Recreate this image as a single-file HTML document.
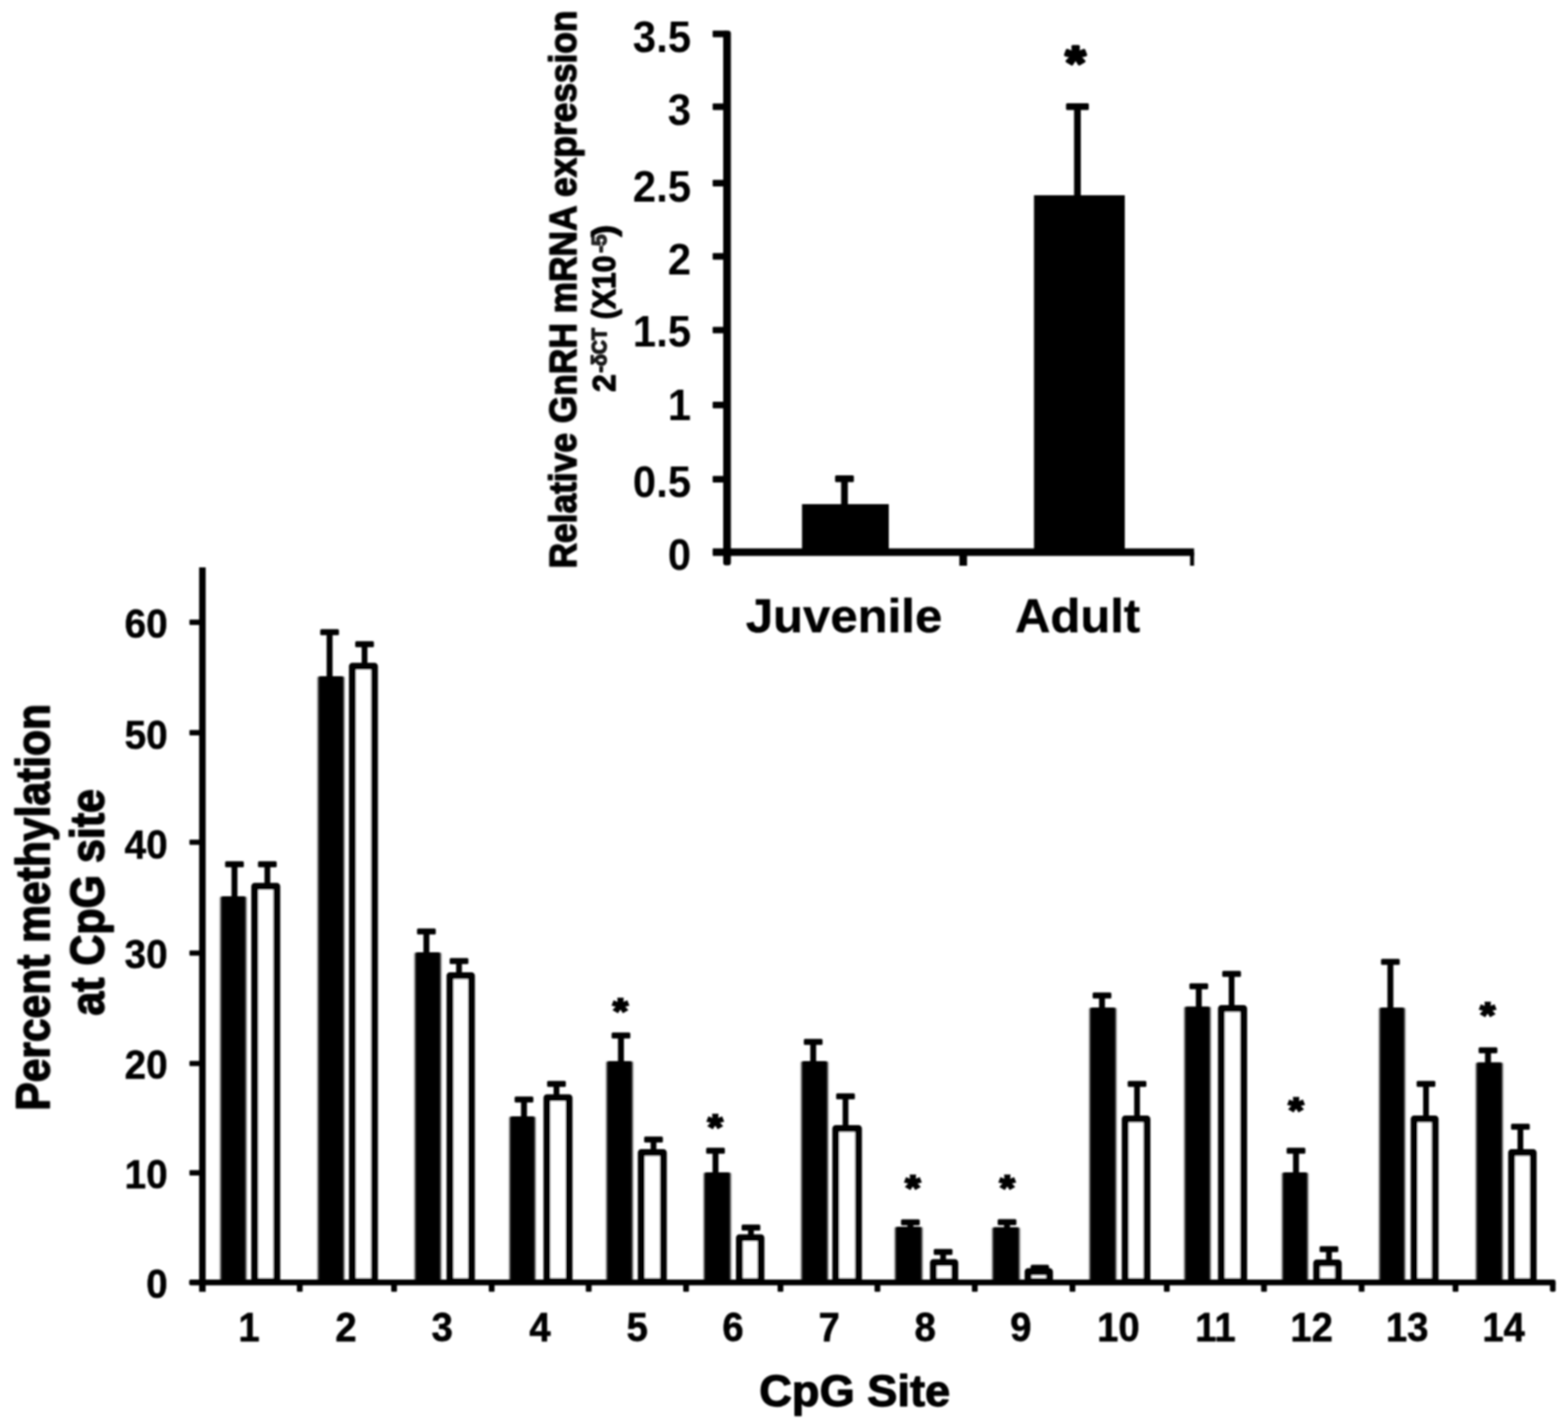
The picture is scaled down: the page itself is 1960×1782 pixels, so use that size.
<!DOCTYPE html>
<html lang="en">
<head>
<meta charset="utf-8">
<title>Percent methylation at CpG site</title>
<style>
html,body{margin:0;padding:0;background:#fff;}
body{width:1960px;height:1782px;overflow:hidden;}
svg{display:block;}
svg text{font-family:"Liberation Sans", sans-serif;font-weight:bold;fill:#000;white-space:pre;}
</style>
</head>
<body>
<svg width="1960" height="1782" viewBox="0 0 1960 1782">
<defs><filter id="soft" x="0" y="0" width="1960" height="1782" filterUnits="userSpaceOnUse"><feGaussianBlur stdDeviation="1.25"/></filter><filter id="softx" x="0" y="0" width="1960" height="1782" filterUnits="userSpaceOnUse"><feGaussianBlur stdDeviation="1.2 0.3"/></filter></defs>
<rect x="0" y="0" width="1960" height="1782" fill="#fff"/>
<g fill="#000" filter="url(#soft)">
<g id="inset">
<rect x="904" y="38.2" width="9.6" height="668.3" rx="3.5"/>
<rect x="904" y="44" width="5" height="656"/>
<rect x="891" y="685.3" width="601.6" height="9.4"/>
<rect x="890.8" y="685.9" width="17.2" height="8.2" rx="1"/>
<text transform="translate(863.8,711.9) scale(0.9550,1)" x="0" y="0" text-anchor="end" font-size="54.8">0</text>
<rect x="890.8" y="594.7" width="17.2" height="8.2" rx="1"/>
<text transform="translate(863.8,621) scale(0.9550,1)" x="0" y="0" text-anchor="end" font-size="54.8">0.5</text>
<rect x="890.8" y="502.1" width="17.2" height="8.2" rx="1"/>
<text transform="translate(863.8,525.4) scale(0.9550,1)" x="0" y="0" text-anchor="end" font-size="54.8">1</text>
<rect x="890.8" y="408.4" width="17.2" height="8.2" rx="1"/>
<text transform="translate(863.8,433.3) scale(0.9550,1)" x="0" y="0" text-anchor="end" font-size="54.8">1.5</text>
<rect x="890.8" y="316.2" width="17.2" height="8.2" rx="1"/>
<text transform="translate(863.8,343) scale(0.9550,1)" x="0" y="0" text-anchor="end" font-size="54.8">2</text>
<rect x="890.8" y="224.7" width="17.2" height="8.2" rx="1"/>
<text transform="translate(863.8,251.5) scale(0.9550,1)" x="0" y="0" text-anchor="end" font-size="54.8">2.5</text>
<rect x="890.8" y="129.2" width="17.2" height="8.2" rx="1"/>
<text transform="translate(863.8,155.6) scale(0.9550,1)" x="0" y="0" text-anchor="end" font-size="54.8">3</text>
<rect x="890.8" y="38.3" width="17.2" height="8.2" rx="1"/>
<text transform="translate(863.8,64.7) scale(0.9550,1)" x="0" y="0" text-anchor="end" font-size="54.8">3.5</text>
<rect x="1199.2" y="690" width="9.6" height="17"/>
<rect x="1487.6" y="690" width="5" height="17"/>
<rect x="1002.5" y="630" width="108.5" height="60"/>
<rect x="1292.5" y="244" width="113.5" height="446"/>
<rect x="1051.4" y="598.2" width="8.4" height="33.8"/>
<rect x="1043.85" y="594" width="23.5" height="8.4" rx="1.5"/>
<rect x="1342.6" y="133.2" width="8.4" height="112.8"/>
<rect x="1332.55" y="129" width="28.5" height="8.4" rx="1.5"/>
<text transform="translate(1329.9,82.3) scale(0.6517,0.5965)" x="2.75" y="28.5" font-size="100" stroke="#000" stroke-width="6" stroke-linejoin="round">*</text>
<text transform="translate(932.8,790) scale(1.0234,1)" x="-0.65" y="0" font-size="60" stroke="#000" stroke-width="0.5" stroke-linejoin="round">Juvenile</text>
<text transform="translate(1270,790) scale(1.0214,1)" x="-1.25" y="0" font-size="60" stroke="#000" stroke-width="0.5" stroke-linejoin="round">Adult</text>
<text transform="translate(720.3,708.2) rotate(-90) scale(0.9274,1)" x="-2.36" y="0" font-size="47.6" stroke="#000" stroke-width="1.7" stroke-linejoin="round">Relative GnRH mRNA expression</text>
<text transform="translate(768.6,489.2) rotate(-90) scale(0.9906,1)" x="-0.66" y="0" font-size="40.2" stroke="#000" stroke-width="1.5" stroke-linejoin="round">2</text>
<text transform="translate(757.6,465.5) rotate(-90) scale(0.9577,1)" x="-0.12" y="0" font-size="25.5" stroke="#000" stroke-width="1.8" stroke-linejoin="round" opacity="0.9">-δCT</text>
<text transform="translate(768.6,397.7) rotate(-90) scale(0.9371,1)" x="-1.26" y="0" font-size="40.2" stroke="#000" stroke-width="1.5" stroke-linejoin="round">(X10</text>
<text transform="translate(757.6,315.6) rotate(-90) scale(1.0224,1)" x="-0.1" y="0" font-size="25" stroke="#000" stroke-width="1.8" stroke-linejoin="round" opacity="0.85">-5</text>
<text transform="translate(768.6,296.4) rotate(-90) scale(1.0975,1)" x="0.65" y="0" font-size="40.2" stroke="#000" stroke-width="1.5" stroke-linejoin="round">)</text>
</g>
<g id="main">
<rect x="248.9" y="709" width="8.2" height="905.3"/>
<rect x="236.6" y="1598.9" width="1707.9" height="7.4" rx="2.5"/>
<rect x="236.8" y="1599.3" width="13.1" height="6.6" rx="1"/>
<text transform="translate(209.6,1622) scale(0.9550,1)" x="0" y="0" text-anchor="end" font-size="50.6" stroke="#000" stroke-width="0.6" stroke-linejoin="round">0</text>
<rect x="236.8" y="1462.3" width="13.1" height="6.6" rx="1"/>
<text transform="translate(209.6,1485.1) scale(0.9550,1)" x="0" y="0" text-anchor="end" font-size="50.6" stroke="#000" stroke-width="0.6" stroke-linejoin="round">10</text>
<rect x="236.8" y="1325.7" width="13.1" height="6.6" rx="1"/>
<text transform="translate(209.6,1347.7) scale(0.9550,1)" x="0" y="0" text-anchor="end" font-size="50.6" stroke="#000" stroke-width="0.6" stroke-linejoin="round">20</text>
<rect x="236.8" y="1187.7" width="13.1" height="6.6" rx="1"/>
<text transform="translate(209.6,1210.3) scale(0.9550,1)" x="0" y="0" text-anchor="end" font-size="50.6" stroke="#000" stroke-width="0.6" stroke-linejoin="round">30</text>
<rect x="236.8" y="1049.2" width="13.1" height="6.6" rx="1"/>
<text transform="translate(209.6,1073.4) scale(0.9550,1)" x="0" y="0" text-anchor="end" font-size="50.6" stroke="#000" stroke-width="0.6" stroke-linejoin="round">40</text>
<rect x="236.8" y="912.3" width="13.1" height="6.6" rx="1"/>
<text transform="translate(209.6,935.5) scale(0.9550,1)" x="0" y="0" text-anchor="end" font-size="50.6" stroke="#000" stroke-width="0.6" stroke-linejoin="round">50</text>
<rect x="236.8" y="774.3" width="13.1" height="6.6" rx="1"/>
<text transform="translate(209.6,797.3) scale(0.9550,1)" x="0" y="0" text-anchor="end" font-size="50.6" stroke="#000" stroke-width="0.6" stroke-linejoin="round">60</text>
<rect x="371.1" y="1602.6" width="7.2" height="11.6" rx="1"/>
<rect x="489" y="1602.6" width="7.2" height="11.6" rx="1"/>
<rect x="611" y="1602.6" width="7.2" height="11.6" rx="1"/>
<rect x="732.3" y="1602.6" width="7.2" height="11.6" rx="1"/>
<rect x="854" y="1602.6" width="7.2" height="11.6" rx="1"/>
<rect x="972" y="1602.6" width="7.2" height="11.6" rx="1"/>
<rect x="1093.2" y="1602.6" width="7.2" height="11.6" rx="1"/>
<rect x="1214.9" y="1602.6" width="7.2" height="11.6" rx="1"/>
<rect x="1337" y="1602.6" width="7.2" height="11.6" rx="1"/>
<rect x="1454.9" y="1602.6" width="7.2" height="11.6" rx="1"/>
<rect x="1576.4" y="1602.6" width="7.2" height="11.6" rx="1"/>
<rect x="1698.4" y="1602.6" width="7.2" height="11.6" rx="1"/>
<rect x="1815.8" y="1602.6" width="7.2" height="11.6" rx="1"/>
<rect x="1937.5" y="1602.6" width="7" height="11.6" rx="2"/>
<rect x="318.4" y="1107.5" width="27.6" height="493.9" fill="#fff" stroke="#000" stroke-width="8.6" stroke-linejoin="round"/>
<rect x="330.6" y="1080" width="7.2" height="25.2"/>
<rect x="322.5" y="1076.3" width="23.4" height="7.4" rx="1.5"/>
<rect x="275.6" y="1120" width="32.1" height="482.6" rx="2.5" filter="url(#softx)"/>
<rect x="289.4" y="1080" width="7.4" height="43"/>
<rect x="281.4" y="1076.3" width="23.4" height="7.4" rx="1.5"/>
<text transform="translate(311.2,1676.1) scale(0.9500,1)" x="0" y="0" text-anchor="middle" font-size="50.2" stroke="#000" stroke-width="0.8" stroke-linejoin="round">1</text>
<rect x="440.5" y="832.5" width="27.6" height="768.9" fill="#fff" stroke="#000" stroke-width="8.6" stroke-linejoin="round"/>
<rect x="452.1" y="805" width="7.2" height="25.2"/>
<rect x="444" y="801.3" width="23.4" height="7.4" rx="1.5"/>
<rect x="397.4" y="845" width="32.7" height="757.6" rx="2.5" filter="url(#softx)"/>
<rect x="408.3" y="790" width="7.4" height="58"/>
<rect x="400.3" y="786.3" width="23.4" height="7.4" rx="1.5"/>
<text transform="translate(432.6,1676.1) scale(0.9500,1)" x="0" y="0" text-anchor="middle" font-size="50.2" stroke="#000" stroke-width="0.8" stroke-linejoin="round">2</text>
<rect x="562.5" y="1219.3" width="26.8" height="382.1" fill="#fff" stroke="#000" stroke-width="8.6" stroke-linejoin="round"/>
<rect x="570.2" y="1201" width="7.2" height="16"/>
<rect x="562.1" y="1197.3" width="23.4" height="7.4" rx="1.5"/>
<rect x="518.6" y="1190" width="32.5" height="412.6" rx="2.5" filter="url(#softx)"/>
<rect x="529.3" y="1164" width="7.4" height="29"/>
<rect x="521.3" y="1160.3" width="23.4" height="7.4" rx="1.5"/>
<text transform="translate(552.7,1676.1) scale(0.9500,1)" x="0" y="0" text-anchor="middle" font-size="50.2" stroke="#000" stroke-width="0.8" stroke-linejoin="round">3</text>
<rect x="683.7" y="1371.8" width="27.6" height="229.6" fill="#fff" stroke="#000" stroke-width="8.6" stroke-linejoin="round"/>
<rect x="692" y="1354.5" width="7.2" height="15"/>
<rect x="683.9" y="1350.8" width="23.4" height="7.4" rx="1.5"/>
<rect x="637" y="1395" width="32" height="207.6" rx="2.5" filter="url(#softx)"/>
<rect x="651.3" y="1374" width="7.4" height="24"/>
<rect x="643.3" y="1370.3" width="23.4" height="7.4" rx="1.5"/>
<text transform="translate(675,1676.1) scale(0.9500,1)" x="0" y="0" text-anchor="middle" font-size="50.2" stroke="#000" stroke-width="0.8" stroke-linejoin="round">4</text>
<rect x="801.6" y="1440.3" width="27.6" height="161.1" fill="#fff" stroke="#000" stroke-width="8.6" stroke-linejoin="round"/>
<rect x="813.3" y="1424" width="7.2" height="14"/>
<rect x="805.2" y="1420.3" width="23.4" height="7.4" rx="1.5"/>
<rect x="758.2" y="1326" width="32.6" height="276.6" rx="2.5" filter="url(#softx)"/>
<rect x="772.5" y="1294" width="7.4" height="35"/>
<rect x="764.5" y="1290.3" width="23.4" height="7.4" rx="1.5"/>
<text transform="translate(764.9,1266.1) scale(0.4909,0.4491)" x="2.5" y="28.75" font-size="100" stroke="#000" stroke-width="5.5" stroke-linejoin="miter">*</text>
<text transform="translate(796.4,1676.1) scale(0.9500,1)" x="0" y="0" text-anchor="middle" font-size="50.2" stroke="#000" stroke-width="0.8" stroke-linejoin="round">5</text>
<rect x="924.3" y="1546.8" width="26.9" height="54.6" fill="#fff" stroke="#000" stroke-width="8.6" stroke-linejoin="round"/>
<rect x="935.1" y="1534" width="7.2" height="10.5"/>
<rect x="927" y="1530.3" width="23.4" height="7.4" rx="1.5"/>
<rect x="880" y="1465" width="33.3" height="137.6" rx="2.5" filter="url(#softx)"/>
<rect x="890.7" y="1438" width="7.4" height="30"/>
<rect x="882.7" y="1434.3" width="23.4" height="7.4" rx="1.5"/>
<text transform="translate(883.2,1410.6) scale(0.4909,0.4491)" x="2.5" y="28.75" font-size="100" stroke="#000" stroke-width="5.5" stroke-linejoin="miter">*</text>
<text transform="translate(916.2,1676.1) scale(0.9500,1)" x="0" y="0" text-anchor="middle" font-size="50.2" stroke="#000" stroke-width="0.8" stroke-linejoin="round">6</text>
<rect x="1044.7" y="1410.3" width="28.4" height="191.1" fill="#fff" stroke="#000" stroke-width="8.6" stroke-linejoin="round"/>
<rect x="1053.3" y="1370" width="7.2" height="38"/>
<rect x="1045.2" y="1366.3" width="23.4" height="7.4" rx="1.5"/>
<rect x="1001.7" y="1326" width="33.1" height="276.6" rx="2.5" filter="url(#softx)"/>
<rect x="1012.8" y="1302" width="7.4" height="27"/>
<rect x="1004.8" y="1298.3" width="23.4" height="7.4" rx="1.5"/>
<text transform="translate(1036.6,1676.1) scale(0.9500,1)" x="0" y="0" text-anchor="middle" font-size="50.2" stroke="#000" stroke-width="0.8" stroke-linejoin="round">7</text>
<rect x="1166.8" y="1577.8" width="26.7" height="23.6" fill="#fff" stroke="#000" stroke-width="8.6" stroke-linejoin="round"/>
<rect x="1175.3" y="1564.5" width="7.2" height="11"/>
<rect x="1167.2" y="1560.8" width="23.4" height="7.4" rx="1.5"/>
<rect x="1118.9" y="1533" width="33.8" height="69.6" rx="2.5" filter="url(#softx)"/>
<rect x="1134.3" y="1527.5" width="7.4" height="8.5"/>
<rect x="1126.3" y="1523.8" width="23.4" height="7.4" rx="1.5"/>
<text transform="translate(1130.2,1487.1) scale(0.4909,0.4491)" x="2.5" y="28.75" font-size="100" stroke="#000" stroke-width="5.5" stroke-linejoin="miter">*</text>
<text transform="translate(1156.6,1676.1) scale(0.9500,1)" x="0" y="0" text-anchor="middle" font-size="50.2" stroke="#000" stroke-width="0.8" stroke-linejoin="round">8</text>
<rect x="1285.1" y="1589.1" width="26.8" height="12.3" fill="#fff" stroke="#000" stroke-width="8.6" stroke-linejoin="round"/>
<rect x="1288.3" y="1580.4" width="23" height="7.2" rx="2"/>
<rect x="1240.6" y="1533.4" width="33.8" height="69.2" rx="2.5" filter="url(#softx)"/>
<rect x="1255.1" y="1527.3" width="7.4" height="9.1"/>
<rect x="1247.1" y="1523.6" width="23.4" height="7.4" rx="1.5"/>
<text transform="translate(1248.2,1487.1) scale(0.4909,0.4491)" x="2.5" y="28.75" font-size="100" stroke="#000" stroke-width="5.5" stroke-linejoin="miter">*</text>
<text transform="translate(1275.9,1676.1) scale(0.9500,1)" x="0" y="0" text-anchor="middle" font-size="50.2" stroke="#000" stroke-width="0.8" stroke-linejoin="round">9</text>
<rect x="1406.5" y="1398.3" width="27.2" height="203.1" fill="#fff" stroke="#000" stroke-width="8.6" stroke-linejoin="round"/>
<rect x="1417.7" y="1354.5" width="7.2" height="41.5"/>
<rect x="1409.6" y="1350.8" width="23.4" height="7.4" rx="1.5"/>
<rect x="1362" y="1259" width="33.1" height="343.6" rx="2.5" filter="url(#softx)"/>
<rect x="1373.8" y="1244" width="7.4" height="18"/>
<rect x="1365.8" y="1240.3" width="23.4" height="7.4" rx="1.5"/>
<text transform="translate(1398.1,1676.1) scale(0.9500,1)" x="0" y="0" text-anchor="middle" font-size="50.2" stroke="#000" stroke-width="0.8" stroke-linejoin="round">10</text>
<rect x="1526.8" y="1260.3" width="27.8" height="341.1" fill="#fff" stroke="#000" stroke-width="8.6" stroke-linejoin="round"/>
<rect x="1535.9" y="1217" width="7.2" height="41"/>
<rect x="1527.8" y="1213.3" width="23.4" height="7.4" rx="1.5"/>
<rect x="1480.7" y="1257.8" width="32.3" height="344.8" rx="2.5" filter="url(#softx)"/>
<rect x="1494.8" y="1232.5" width="7.4" height="28.3"/>
<rect x="1486.8" y="1228.8" width="23.4" height="7.4" rx="1.5"/>
<text transform="translate(1519.3,1676.1) scale(0.9500,1)" x="0" y="0" text-anchor="middle" font-size="50.2" stroke="#000" stroke-width="0.8" stroke-linejoin="round">11</text>
<rect x="1645.9" y="1578.3" width="27" height="23.1" fill="#fff" stroke="#000" stroke-width="8.6" stroke-linejoin="round"/>
<rect x="1657.6" y="1561" width="7.2" height="15"/>
<rect x="1649.5" y="1557.3" width="23.4" height="7.4" rx="1.5"/>
<rect x="1602.8" y="1465" width="32" height="137.6" rx="2.5" filter="url(#softx)"/>
<rect x="1616.3" y="1438" width="7.4" height="30"/>
<rect x="1608.3" y="1434.3" width="23.4" height="7.4" rx="1.5"/>
<text transform="translate(1609.2,1389.6) scale(0.4909,0.4491)" x="2.5" y="28.75" font-size="100" stroke="#000" stroke-width="5.5" stroke-linejoin="miter">*</text>
<text transform="translate(1639.6,1676.1) scale(0.9500,1)" x="0" y="0" text-anchor="middle" font-size="50.2" stroke="#000" stroke-width="0.8" stroke-linejoin="round">12</text>
<rect x="1767.7" y="1398.3" width="26.2" height="203.1" fill="#fff" stroke="#000" stroke-width="8.6" stroke-linejoin="round"/>
<rect x="1778.9" y="1354.5" width="7.2" height="41.5"/>
<rect x="1770.8" y="1350.8" width="23.4" height="7.4" rx="1.5"/>
<rect x="1724.2" y="1259" width="31.9" height="343.6" rx="2.5" filter="url(#softx)"/>
<rect x="1734.3" y="1202" width="7.4" height="60"/>
<rect x="1726.3" y="1198.3" width="23.4" height="7.4" rx="1.5"/>
<text transform="translate(1759.1,1676.1) scale(0.9500,1)" x="0" y="0" text-anchor="middle" font-size="50.2" stroke="#000" stroke-width="0.8" stroke-linejoin="round">13</text>
<rect x="1889.5" y="1440.3" width="27" height="161.1" fill="#fff" stroke="#000" stroke-width="8.6" stroke-linejoin="round"/>
<rect x="1896.9" y="1408" width="7.2" height="30"/>
<rect x="1888.8" y="1404.3" width="23.4" height="7.4" rx="1.5"/>
<rect x="1845.2" y="1327.5" width="33" height="275.1" rx="2.5" filter="url(#softx)"/>
<rect x="1856.3" y="1312.5" width="7.4" height="18"/>
<rect x="1848.3" y="1308.8" width="23.4" height="7.4" rx="1.5"/>
<text transform="translate(1848.7,1270.6) scale(0.4909,0.4491)" x="2.5" y="28.75" font-size="100" stroke="#000" stroke-width="5.5" stroke-linejoin="miter">*</text>
<text transform="translate(1879.5,1676.1) scale(0.9500,1)" x="0" y="0" text-anchor="middle" font-size="50.2" stroke="#000" stroke-width="0.8" stroke-linejoin="round">14</text>
<text transform="translate(950.6,1756.6) scale(1.0094,1)" x="-1.54" y="0" font-size="56" stroke="#000" stroke-width="1.4" stroke-linejoin="round">CpG Site</text>
<text transform="translate(61.6,1385.2) rotate(-90) scale(0.9012,1)" x="-3.03" y="0" font-size="59" stroke="#000" stroke-width="1.9" stroke-linejoin="round">Percent methylation</text>
<text transform="translate(129.6,1268.5) rotate(-90) scale(0.9017,1)" x="-0.83" y="0" font-size="59.5" stroke="#000" stroke-width="1.9" stroke-linejoin="round">at CpG site</text>
</g>
</g>
</svg>
</body>
</html>
